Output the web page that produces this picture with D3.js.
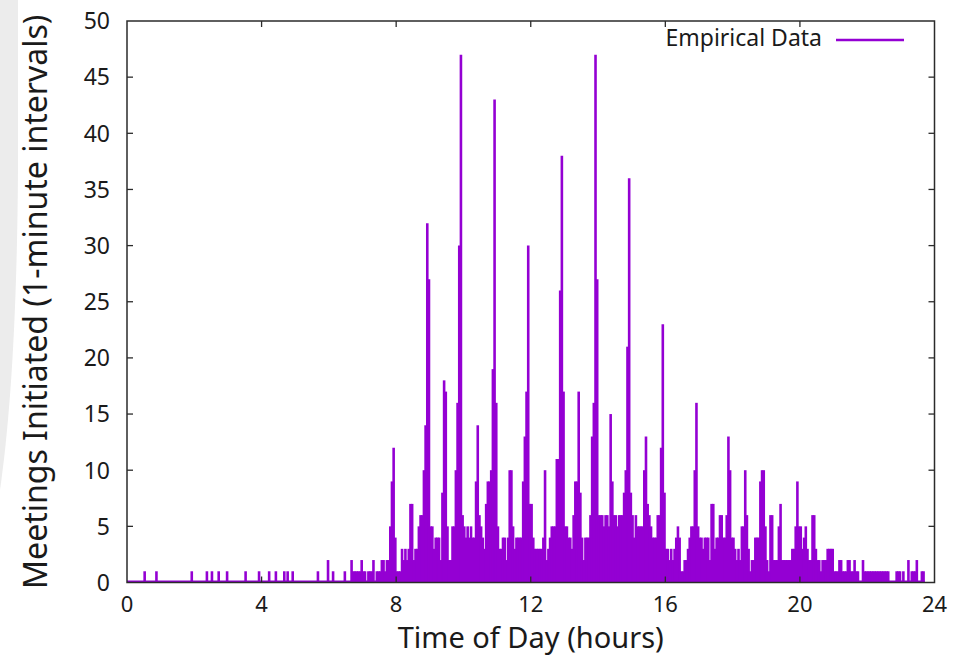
<!DOCTYPE html>
<html>
<head>
<meta charset="utf-8">
<script src="https://cdn.jsdelivr.net/npm/d3@7"></script>
<style>
  html, body { margin: 0; padding: 0; background: #fff; }
  svg { display: block; }
  text { font-family: "Noto Sans", "Open Sans", sans-serif; fill: #1a1a1a; }
</style>
</head>
<body>
<svg id="chart" width="953" height="657"></svg>
<script>
// Meetings initiated per minute over a day, read in 3-minute slots (20 per hour).
const h00 = [0,0,0,0,0,0,0,0,0,0,1,0,0,0,0,0,0,1,0,0];
const h01 = [0,0,0,0,0,0,0,0,0,0,0,0,0,0,0,0,0,0,1,0];
const h02 = [0,0,0,0,0,0,0,1,0,0,1,0,0,0,1,0,0,0,0,1];
const h03 = [0,0,0,0,0,0,0,0,0,0,1,0,0,0,0,0,0,0,1,0];
const h04 = [0,0,0,0,1,0,0,0,1,0,0,0,0,1,0,1,0,0,1,0];
const h05 = [0,0,0,0,0,0,0,0,0,0,0,0,0,1,0,0,0,0,0,2];
const h06 = [0,0,1,0,0,0,0,0,0,1,0,0,0,2,1,1,1,1,1,2];
const h07 = [1,1,0,1,1,1,2,0,1,1,1,2,2,1,2,2,5,9,12,4];
const h08 = [1,1,1,3,2,3,2,3,7,7,2,3,3,5,6,6,10,14,32,27];
const h09 = [5,5,3,4,4,4,2,8,18,17,5,2,2,5,5,10,16,30,47,6];
const h10 = [5,4,5,4,5,4,4,9,14,6,5,4,3,7,9,9,10,19,43,16];
const h11 = [5,3,3,4,4,2,4,10,10,5,3,4,4,4,4,9,13,17,30,7];
const h12 = [7,4,3,3,3,3,3,4,10,2,3,4,5,5,5,11,11,26,38,17];
const h13 = [5,5,4,4,3,6,9,9,17,8,4,2,4,4,4,6,13,16,47,27];
const h14 = [6,6,6,5,6,6,5,15,9,6,6,5,6,6,6,8,10,21,36,8];
const h15 = [6,4,6,5,5,5,5,10,13,7,6,5,4,4,4,6,6,12,23,8];
const h16 = [3,3,2,3,2,3,4,5,4,1,1,2,2,3,4,5,5,10,16,5];
const h17 = [4,4,3,4,4,4,2,7,7,3,4,4,6,6,4,4,6,13,10,4];
const h18 = [4,3,2,3,2,5,5,10,6,3,1,2,2,4,4,4,9,10,10,5];
const h19 = [2,1,6,6,2,2,2,5,7,2,2,2,2,2,2,3,3,5,9,5];
const h20 = [5,3,4,5,3,2,2,6,6,3,2,2,1,2,2,2,3,3,3,3];
const h21 = [1,1,1,2,2,1,1,1,2,2,1,1,2,1,1,0,0,2,1,1];
const h22 = [1,1,1,1,1,1,1,1,1,1,1,1,1,0,0,0,0,1,1,1];
const h23 = [0,1,0,0,2,0,1,1,1,2,0,0,1,1,0,0,0,0,0,0];

const hourlyCounts = [h00,h01,h02,h03,h04,h05,h06,h07,h08,h09,h10,h11,
                      h12,h13,h14,h15,h16,h17,h18,h19,h20,h21,h22,h23];
const slotMinutes = 3;

const xTicks = [0, 4, 8, 12, 16, 20, 24];
const yTicks = [0, 5, 10, 15, 20, 25, 30, 35, 40, 45, 50];

const seriesName = "Empirical Data";
const xTitle = "Time of Day (hours)";
const yTitle = "Meetings Initiated (1-minute intervals)";

// Flatten to (time in hours, count) points
const points = hourlyCounts.flatMap((arr, h) =>
  arr.map((c, s) => ({ t: h + (s * slotMinutes + slotMinutes / 2) / 60, c })));
const lastNonZero = d3.max(points.filter(p => p.c > 0), p => p.t);

const color = "#9400d3";
const svg = d3.select("#chart");

const plot = { left: 127, right: 934.5, top: 21, bottom: 582.5 };
const x = d3.scaleLinear().domain([0, 24]).range([plot.left, plot.right]);
const y = d3.scaleLinear().domain([0, 50]).range([plot.bottom, plot.top]);

// pale page edge on the left
svg.append("path")
  .attr("d", "M0,0 H18 V170 C17,320 10,420 0,490 Z")
  .attr("fill", "#ececec");

// zero baseline of the impulses
svg.append("line")
  .attr("x1", x(0)).attr("x2", x(lastNonZero) + 1)
  .attr("y1", y(0) - 1).attr("y2", y(0) - 1)
  .attr("stroke", color).attr("stroke-width", 2);

// impulses
svg.append("g")
  .selectAll("line")
  .data(points.filter(p => p.c > 0))
  .join("line")
  .attr("x1", d => x(d.t)).attr("x2", d => x(d.t))
  .attr("y1", y(0)).attr("y2", d => y(d.c))
  .attr("stroke", color)
  .attr("stroke-width", 2.6);

// frame with inward ticks on all sides
const frameColor = "#2b2b2b";
svg.append("rect")
  .attr("x", plot.left).attr("y", plot.top)
  .attr("width", plot.right - plot.left).attr("height", plot.bottom - plot.top)
  .attr("fill", "none").attr("stroke", frameColor).attr("stroke-width", 1.5);

const tickLen = 6;
const tg = svg.append("g").attr("stroke", frameColor).attr("stroke-width", 1.3);
xTicks.slice(1, -1).forEach(v => {
  tg.append("line").attr("x1", x(v)).attr("x2", x(v))
    .attr("y1", plot.bottom).attr("y2", plot.bottom - tickLen);
  tg.append("line").attr("x1", x(v)).attr("x2", x(v))
    .attr("y1", plot.top).attr("y2", plot.top + tickLen);
});
yTicks.slice(1, -1).forEach(v => {
  tg.append("line").attr("x1", plot.left).attr("x2", plot.left + tickLen)
    .attr("y1", y(v)).attr("y2", y(v));
  tg.append("line").attr("x1", plot.right).attr("x2", plot.right - tickLen)
    .attr("y1", y(v)).attr("y2", y(v));
});

// tick labels
svg.append("g").selectAll("text").data(xTicks).join("text")
  .attr("x", d => x(d)).attr("y", 611.5)
  .attr("text-anchor", "middle").attr("font-size", 22)
  .text(d => d);
svg.append("g").selectAll("text").data(yTicks).join("text")
  .attr("x", 110).attr("y", d => y(d) + 8.3)
  .attr("text-anchor", "end").attr("font-size", 23)
  .text(d => d);

// axis titles
svg.append("text")
  .attr("x", (plot.left + plot.right) / 2).attr("y", 648.3)
  .attr("text-anchor", "middle").attr("font-size", 29)
  .text(xTitle);
svg.append("text")
  .attr("transform", `translate(47,${(plot.top + plot.bottom) / 2}) rotate(-90)`)
  .attr("text-anchor", "middle").attr("font-size", 32)
  .text(yTitle);

// legend
svg.append("text")
  .attr("x", 822).attr("y", 45.5)
  .attr("text-anchor", "end").attr("font-size", 23)
  .text(seriesName);
svg.append("line")
  .attr("x1", 836).attr("x2", 904).attr("y1", 40).attr("y2", 40)
  .attr("stroke", color).attr("stroke-width", 2.6);
</script>
</body>
</html>
